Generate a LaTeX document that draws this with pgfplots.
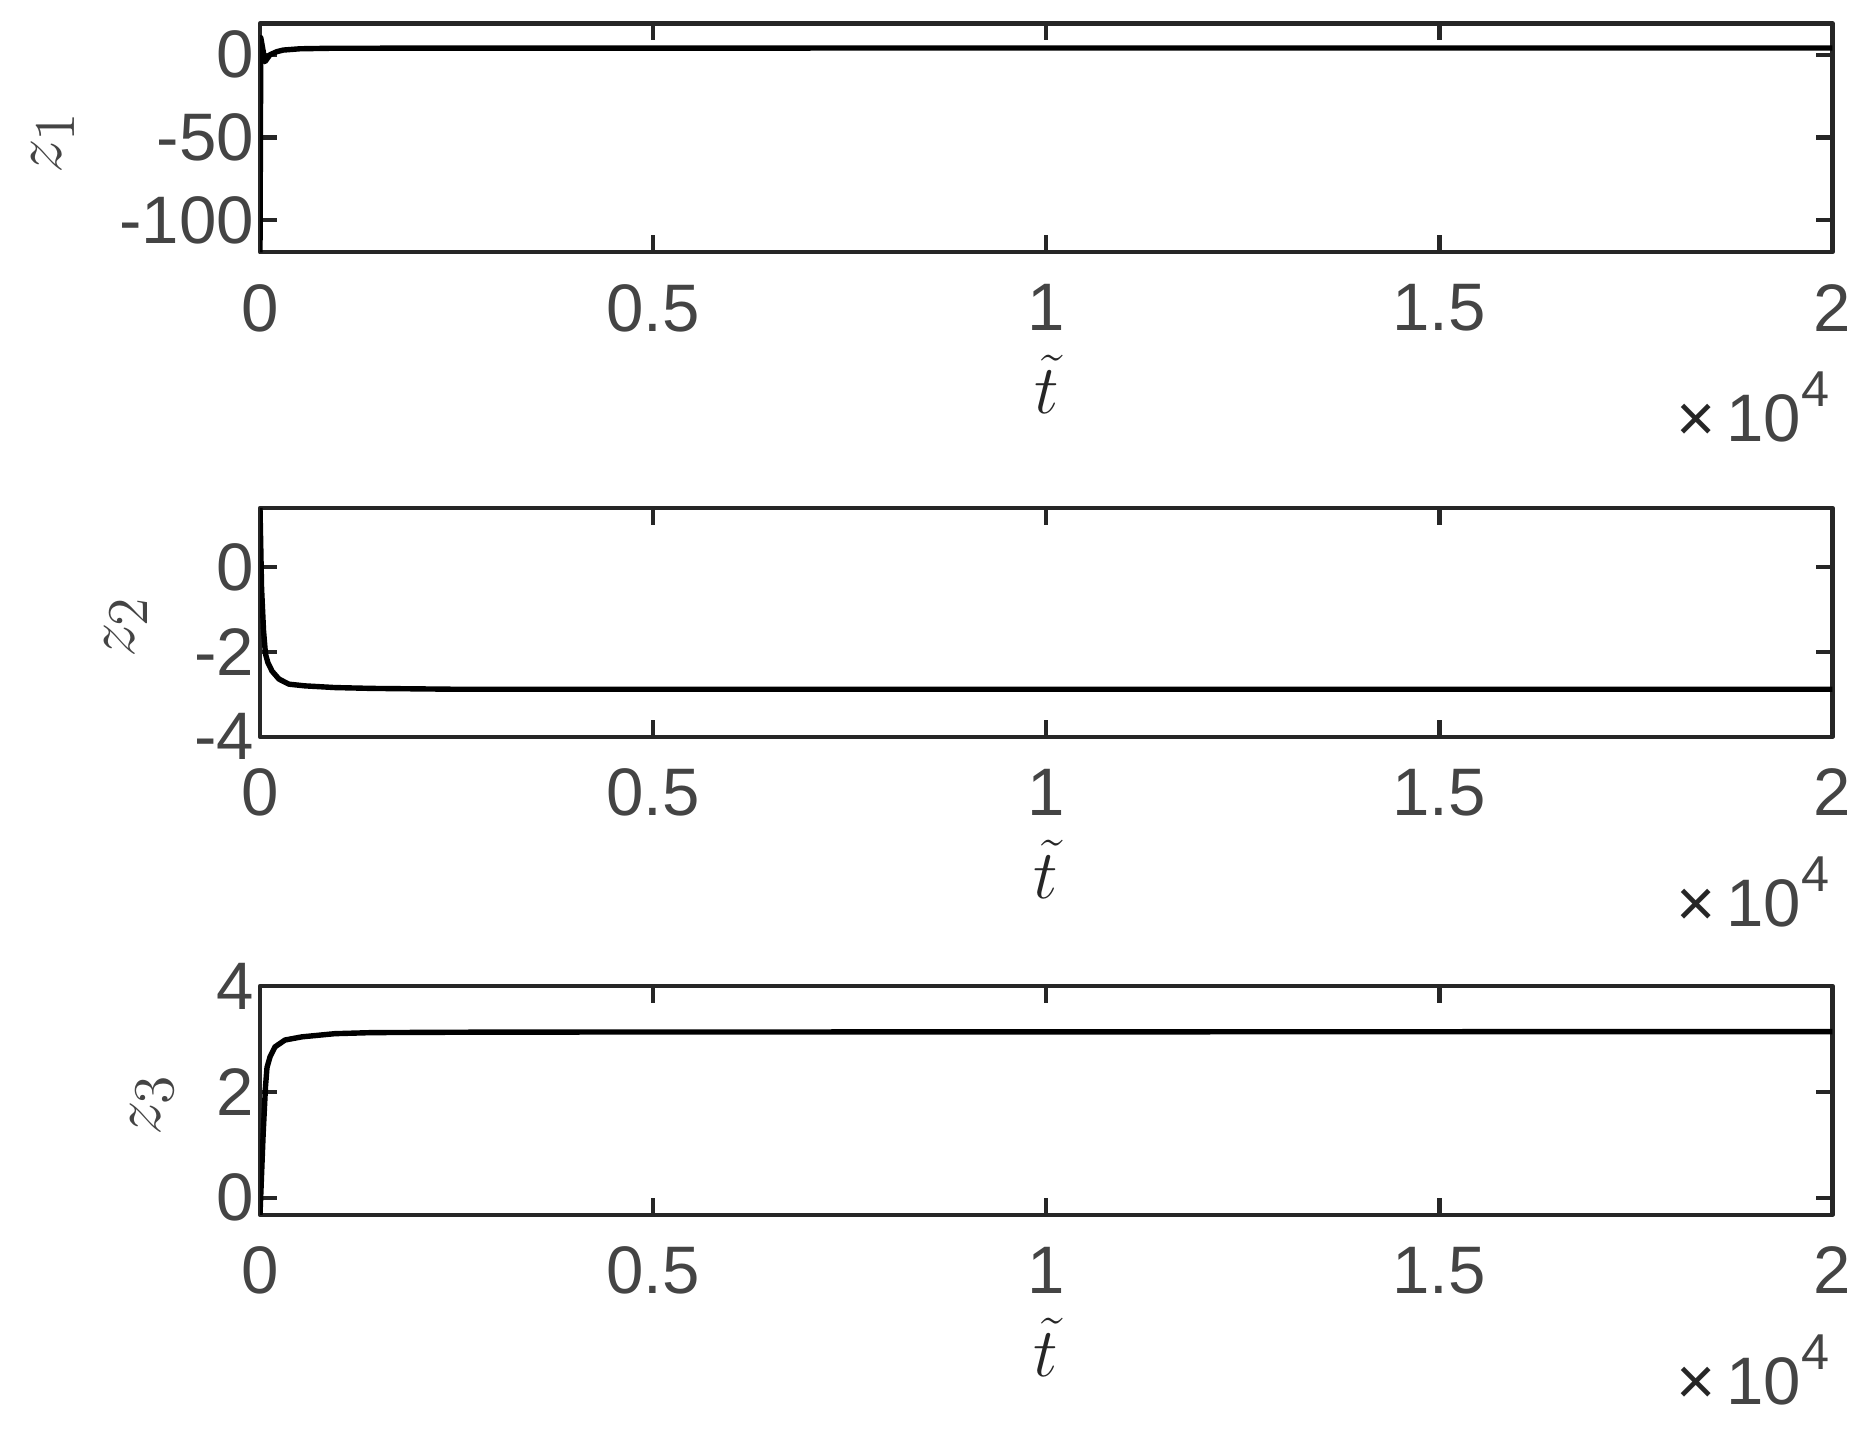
\documentclass[border=0pt]{standalone}
\usepackage{fontspec}
\setmainfont{Liberation Sans}
\usepackage{pgfplots}
\pgfplotsset{compat=1.18}
\definecolor{axgray}{HTML}{262626}
\definecolor{txtgray}{HTML}{444444}
\pgfplotsset{
  common/.style={
    scale only axis, width=393.1pt, height=57.2pt,
    anchor=north west,
    clip mode=individual,
    xmin=0, xmax=20000,
    xtick={0,5000,10000,15000,20000},
    xticklabels={0,0.5,1,1.5,2},
    scaled x ticks=false, scaled y ticks=false,
    axis line style={axgray, line width=1.1pt},
    every tick/.style={axgray, line width=1.1pt},
    major tick length=4.2pt,
    tick align=inside,
    tick pos=both,
    xticklabel pos=bottom, yticklabel pos=left,
    tick label style={font=\fontsize{16.8}{18}\selectfont, text=txtgray},
    /pgf/number format/assume math mode=true,
    xticklabel style={yshift=-4.5pt},
    yticklabel style={xshift=2pt},
    xlabel={$\tilde{t}$},
    xlabel style={font=\fontsize{19}{20}\selectfont, text=axgray, inner sep=0pt, at={(axis description cs:0.5,0)}, anchor=center, yshift=-33.1pt},
    ylabel style={font=\fontsize{19}{20}\selectfont, text=txtgray, inner sep=0pt, anchor=center},
    line join=round,
  },
  curve/.style={black, line width=1.35pt, line join=round},
}
\newcommand{\timesten}{%
  \node[anchor=base east, inner sep=0pt, font=\fontsize{16.8}{18}\selectfont, text=txtgray,
        xshift=-0.6pt, yshift=-47.4pt] at (rel axis cs:1,0)
        {{\color{axgray}×}\,10\raisebox{8.75pt}{\fontsize{12.6}{13}\selectfont 4}};}
\begin{document}
\begin{tikzpicture}
\path[use as bounding box] (0,0) rectangle (467.5pt,-357.5pt);
% ---------- z1 ----------
\begin{axis}[common, at={(65pt,-5.875pt)},
  ymin=-119.6, ymax=18.9, ytick={-100,-50,0}, yticklabels={-100,-50,0},
  ylabel={$z_1$}, ylabel style={at={(axis description cs:-0.1314,0.48)}}]
\addplot[curve] coordinates {
  (0,-119.6) (10,10.3) (64,-4.2) (127,0) (212,1.8) (293,2.8) (509,3.6)
  (900,3.9) (2400,4.0) (5000,4.03) (20000,4.05)
};
\timesten
\end{axis}
% ---------- z2 ----------
\begin{axis}[common, at={(65pt,-127pt)},
  ymin=-4, ymax=1.39, ytick={-4,-2,0}, yticklabels={-4,-2,0},
  ylabel={$z_2$}, ylabel style={at={(axis description cs:-0.085,0.48)}}]
\addplot[curve] coordinates {
  (0,1.39) (20,-0.5) (45,-1.5) (70,-2.05) (100,-2.25) (127,-2.35) (152,-2.45) (241,-2.64)
  (368,-2.76) (571,-2.8) (952,-2.84) (1422,-2.86) (2500,-2.88) (20000,-2.88)
};
\timesten
\end{axis}
% ---------- z3 ----------
\begin{axis}[common, at={(65pt,-246.5pt)},
  ymin=-0.32, ymax=4, ytick={0,2,4}, yticklabels={0,2,4},
  ylabel={$z_3$}, ylabel style={at={(axis description cs:-0.0686,0.48)}}]
\addplot[curve] coordinates {
  (0,-0.32) (40,1.2) (70,2.1) (89,2.46) (127,2.66) (190,2.85) (318,2.98)
  (533,3.04) (952,3.1) (1422,3.12) (3000,3.13) (20000,3.14)
};
\timesten
\end{axis}
\end{tikzpicture}
\end{document}
